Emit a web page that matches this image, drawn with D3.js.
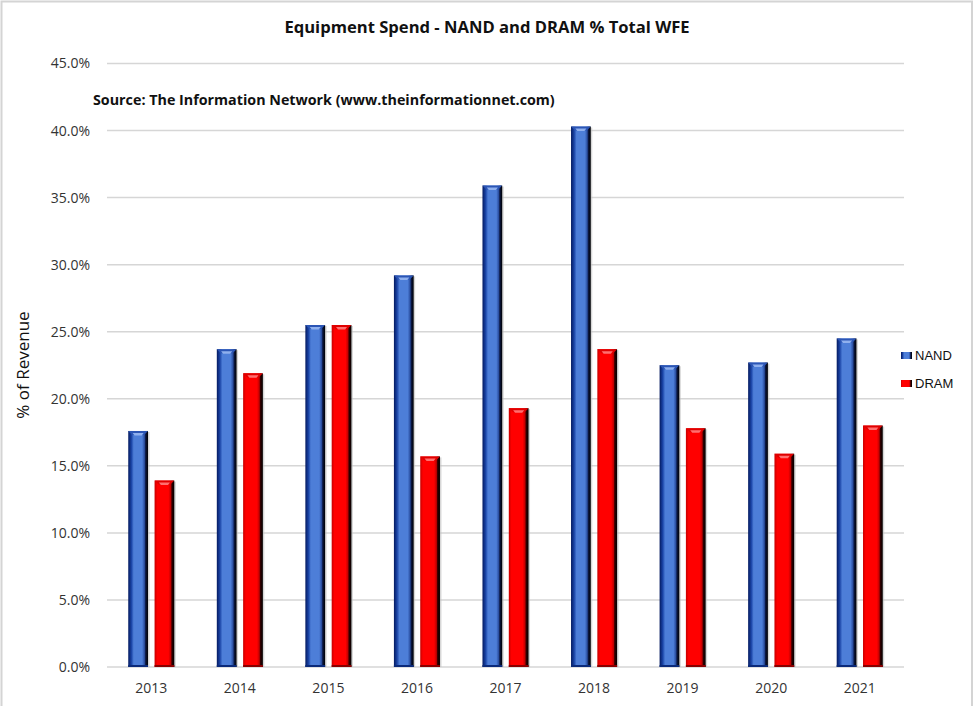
<!DOCTYPE html>
<html>
<head>
<meta charset="utf-8">
<script src="https://cdn.jsdelivr.net/npm/d3@7"></script>
<style>
  body { margin: 0; background: #fff; }
  text { font-family: "Open Sans", "DejaVu Sans", sans-serif; }
</style>
</head>
<body>
<script>
// Equipment Spend - NAND and DRAM % of total WFE

var years = ["2013", "2014", "2015", "2016", "2017", "2018", "2019", "2020", "2021"];
var series = ["NAND", "DRAM"];
var nandValues = [17.6, 23.7, 25.5, 29.2, 35.9, 40.3, 22.5, 22.7, 24.5];
var dramValues = [13.9, 21.9, 25.5, 15.7, 19.3, 23.7, 17.8, 15.9, 18.0];
var yTicks = [0, 5, 10, 15, 20, 25, 30, 35, 40, 45];

var W = 974, H = 706;
var margin = { top: 63.5, bottom: 39, left: 107, right: 70 };

var svg = d3.select("body").append("svg")
    .attr("width", W)
    .attr("height", H);

// gradients for the bevelled bars
var defs = svg.append("defs");
function makeGrad(id, stops) {
    var g = defs.append("linearGradient").attr("id", id)
        .attr("x1", "0%").attr("x2", "100%").attr("y1", "0%").attr("y2", "0%");
    stops.forEach(function(s) {
        g.append("stop").attr("offset", s[0]).attr("stop-color", s[1]);
    });
}
makeGrad("gradNAND", [["0%", "#041a60"], ["16%", "#1a44a6"], ["28%", "#4d7ed8"], ["70%", "#4d7ed8"], ["82%", "#2a4ea0"], ["88%", "#0a1640"], ["100%", "#000000"]]);
makeGrad("gradDRAM", [["0%", "#c80000"], ["14%", "#ff0000"], ["70%", "#ff0000"], ["82%", "#c00000"], ["88%", "#300000"], ["100%", "#000000"]]);

// chart frame
svg.append("rect")
    .attr("x", 1.5).attr("y", 1.5)
    .attr("width", W - 3.5).attr("height", H + 20)
    .attr("fill", "none")
    .attr("stroke", "#d4d4d4")
    .attr("stroke-width", 2);

var plotW = W - margin.left - margin.right;
var plotH = H - margin.top - margin.bottom;

var g = svg.append("g")
    .attr("transform", "translate(" + margin.left + "," + margin.top + ")");

var y = d3.scaleLinear().domain([0, 45]).range([plotH, 0]);

var x0 = d3.scaleBand()
    .domain(years)
    .range([0, plotW])
    .paddingInner(0.48)
    .paddingOuter(0.24);

var x1 = d3.scaleBand()
    .domain(series)
    .range([0, x0.bandwidth()])
    .paddingInner(0.25);

// gridlines
g.append("g").selectAll("line")
    .data(yTicks)
    .enter().append("line")
    .attr("x1", 0).attr("x2", plotW)
    .attr("y1", function(d) { return y(d); })
    .attr("y2", function(d) { return y(d); })
    .attr("stroke", "#d6d6d6")
    .attr("stroke-width", 1.5);

// y axis labels
var yAxis = g.append("g")
    .call(d3.axisLeft(y).tickValues(yTicks).tickSize(0).tickPadding(17)
        .tickFormat(function(d) { return d.toFixed(1) + "%"; }));
yAxis.select(".domain").remove();
yAxis.selectAll("text")
    .style("font-family", "Open Sans")
    .attr("font-size", 14)
    .attr("fill", "#333");

// x axis labels
var xAxis = g.append("g")
    .attr("transform", "translate(0," + plotH + ")")
    .call(d3.axisBottom(x0).tickSize(0).tickPadding(16));
xAxis.select(".domain").remove();
xAxis.selectAll("text")
    .style("font-family", "Open Sans")
    .attr("font-size", 14)
    .attr("fill", "#333");

// bars
var rows = years.map(function(yr, i) {
    return { year: yr, NAND: nandValues[i], DRAM: dramValues[i] };
});

var groups = g.append("g").selectAll("g")
    .data(rows)
    .enter().append("g")
    .attr("transform", function(d) { return "translate(" + x0(d.year) + ",0)"; });

var bars = groups.selectAll("g")
    .data(function(d) {
        return series.map(function(s) { return { key: s, value: d[s] }; });
    })
    .enter().append("g")
    .attr("transform", function(d) { return "translate(" + x1(d.key) + "," + y(d.value) + ")"; });

var bw = x1.bandwidth();

// soft shadow to the right
bars.append("rect")
    .attr("x", 1.5).attr("y", 1)
    .attr("width", bw)
    .attr("height", function(d) { return plotH - y(d.value) - 1; })
    .attr("fill", "#bdbdbd")
    .attr("opacity", 0.6);

bars.append("rect")
    .attr("width", bw)
    .attr("height", function(d) { return plotH - y(d.value); })
    .attr("fill", function(d) { return "url(#grad" + d.key + ")"; });

// top bevel
bars.append("path")
    .attr("d", "M0,0 L" + bw + ",0 L" + (bw * 0.8) + ",4 L" + (bw * 0.2) + ",4 Z")
    .attr("fill", function(d) { return d.key === "NAND" ? "#2b55b5" : "#e00000"; });
bars.append("path")
    .attr("d", "M" + (bw * 0.22) + ",2 L" + (bw * 0.78) + ",2 L" + (bw * 0.68) + ",4.5 L" + (bw * 0.32) + ",4.5 Z")
    .attr("fill", function(d) { return d.key === "NAND" ? "#8fb0ee" : "#ff7070"; });

// bottom edge
bars.append("rect")
    .attr("x", 0)
    .attr("y", function(d) { return plotH - y(d.value) - 2; })
    .attr("width", bw).attr("height", 2)
    .attr("fill", function(d) { return d.key === "NAND" ? "#0b2a7a" : "#8a0000"; });

// title
svg.append("text")
    .attr("x", 487).attr("y", 33)
    .attr("text-anchor", "middle")
    .attr("font-size", 16.6)
    .attr("font-weight", "bold")
    .attr("fill", "#111")
    .text("Equipment Spend - NAND and DRAM % Total WFE");

svg.append("text")
    .attr("x", 93).attr("y", 105)
    .attr("font-size", 14.3)
    .attr("font-weight", "bold")
    .attr("fill", "#111")
    .text("Source: The Information Network (www.theinformationnet.com)");

// y axis title
svg.append("text")
    .attr("transform", "translate(29,365) rotate(-90)")
    .attr("text-anchor", "middle")
    .attr("font-size", 17)
    .attr("fill", "#111")
    .text("% of Revenue");

// legend
var legend = svg.append("g").selectAll("g")
    .data(series)
    .enter().append("g")
    .attr("transform", function(d, i) { return "translate(901," + (352 + i * 28) + ")"; });

legend.append("rect")
    .attr("width", 11).attr("height", 7)
    .attr("fill", function(d) { return "url(#grad" + d + ")"; });

legend.append("text")
    .attr("x", 14).attr("y", 7.5)
    .attr("font-size", 13)
    .style("font-family", "Liberation Sans, Arial, sans-serif")
    .attr("fill", "#111")
    .text(function(d) { return d; });
</script>
</body>
</html>
